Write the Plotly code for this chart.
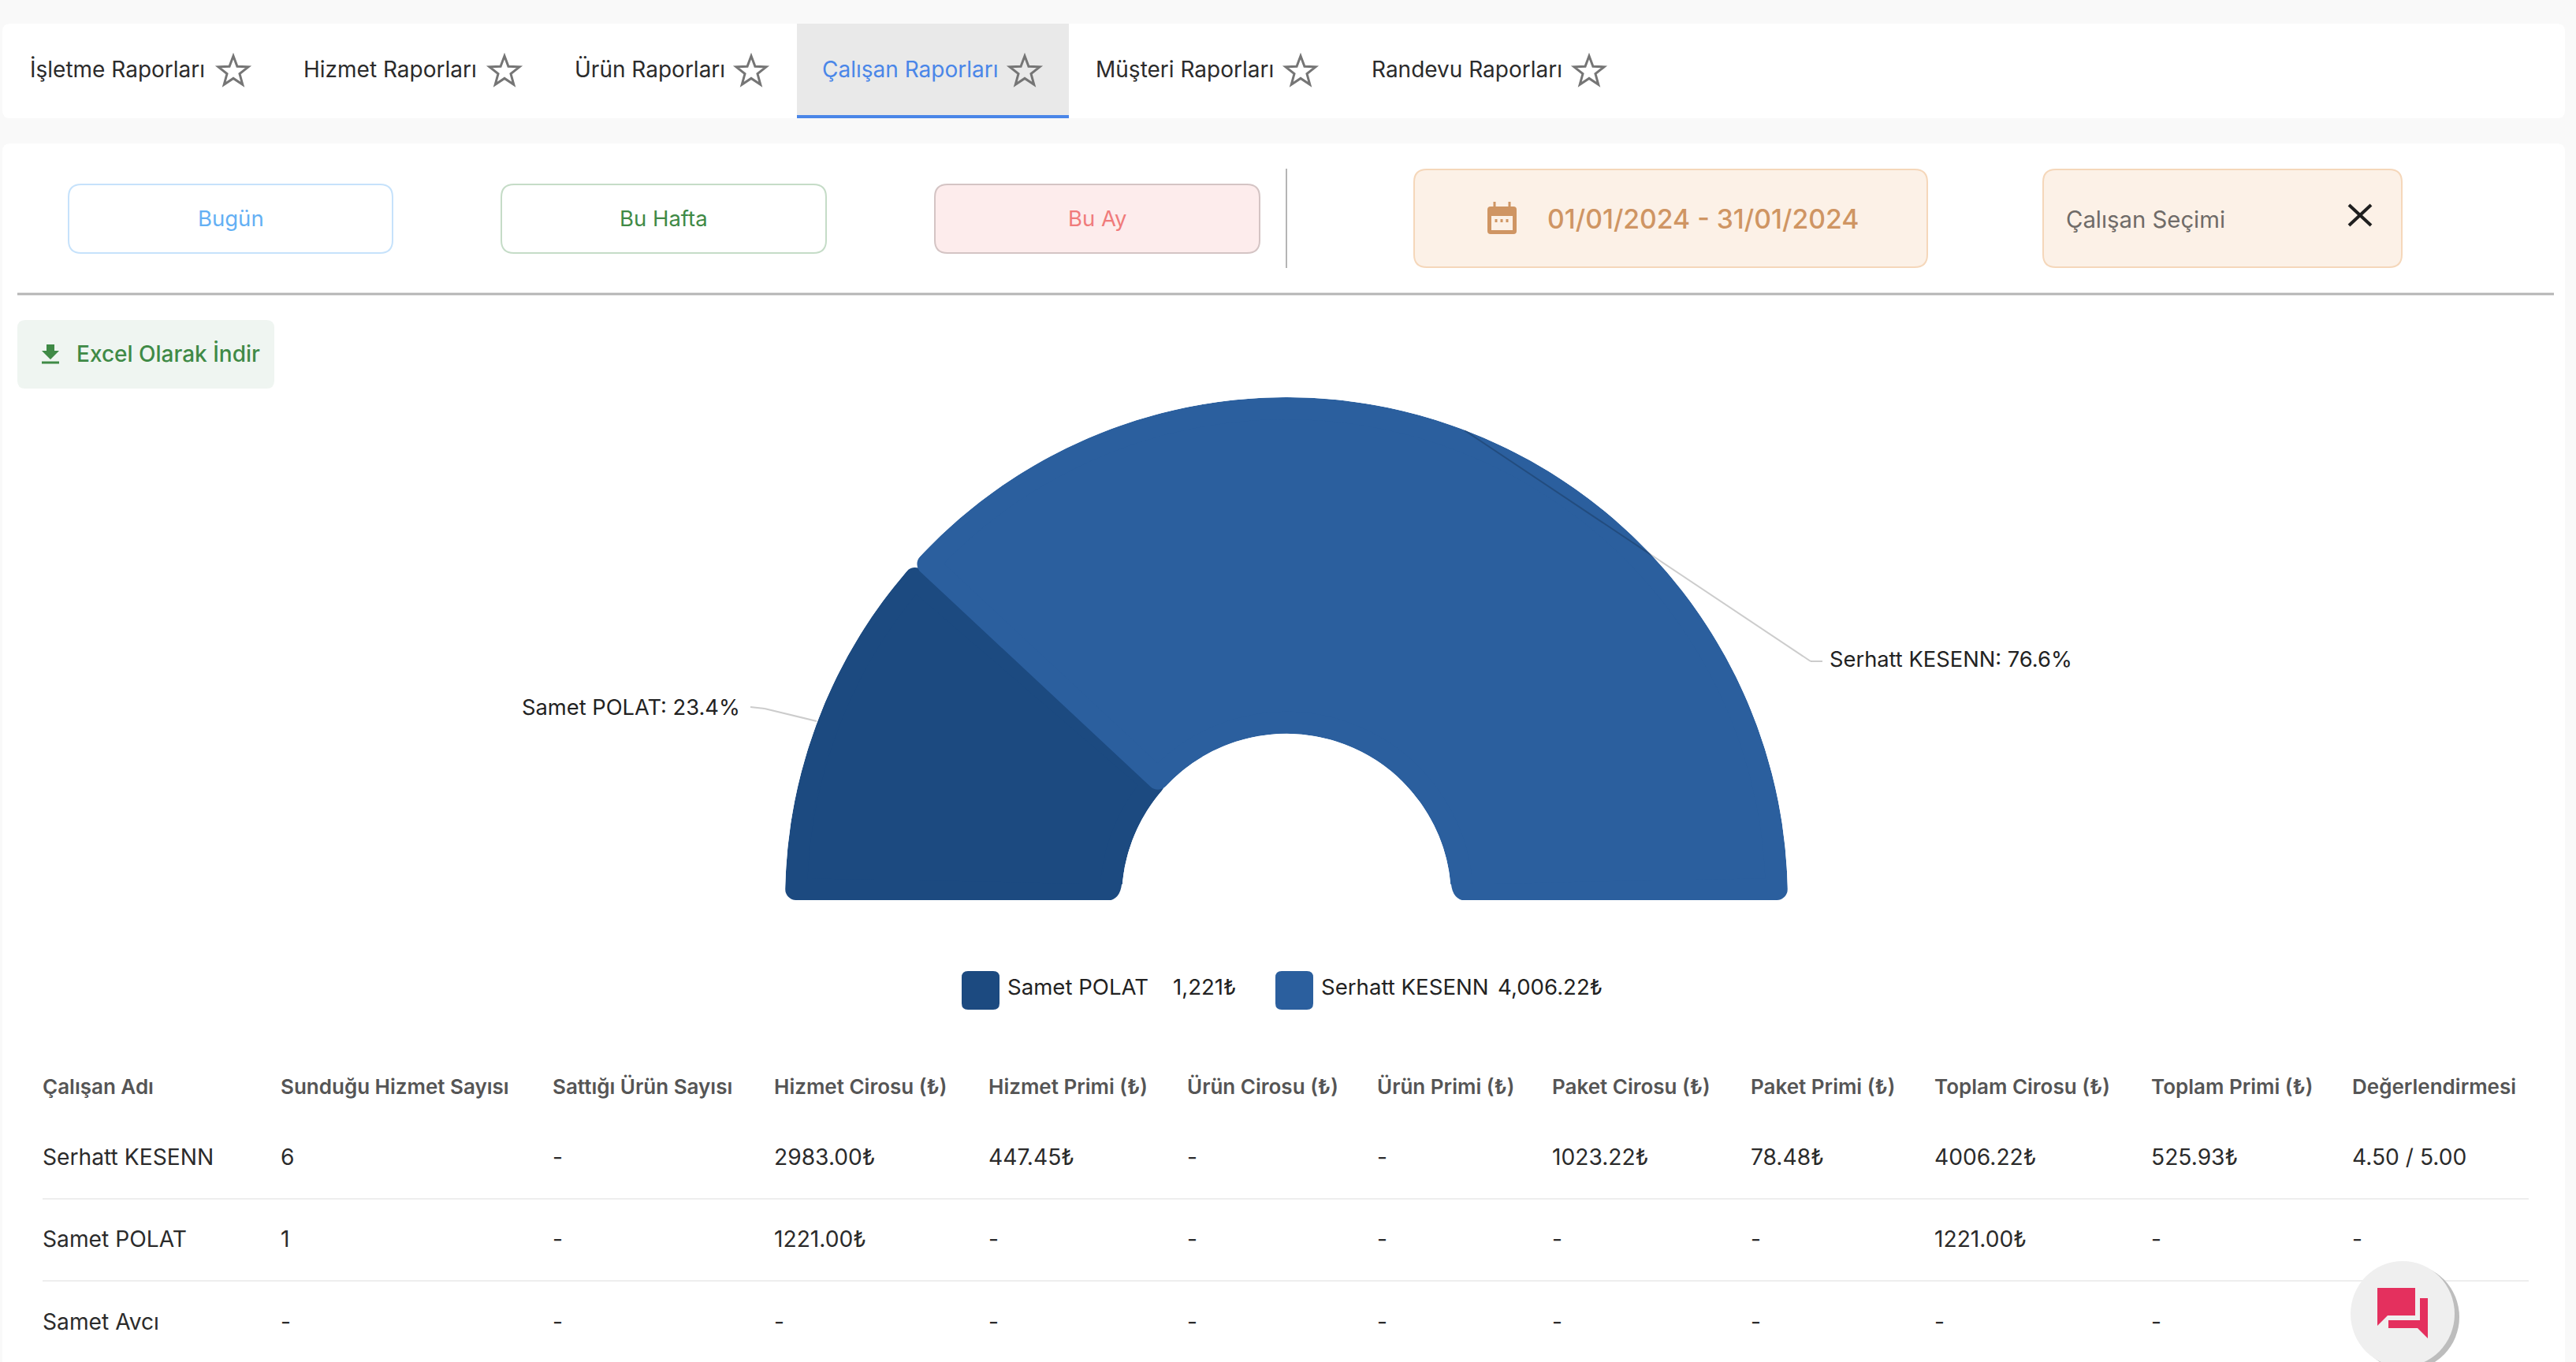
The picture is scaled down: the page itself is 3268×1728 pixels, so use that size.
import math
import plotly.graph_objects as go

W, H = 3268, 1728

# chart values
employees = ['Samet POLAT', 'Serhatt KESENN']
revenue = [1221, 4006.22]
revenue_labels = ['1,221₺', '4,006.22₺']
slice_colors = ['#1c4a80', '#2b5f9e']

# page texts
tabs = ['İşletme Raporları', 'Hizmet Raporları', 'Ürün Raporları', 'Çalışan Raporları', 'Müşteri Raporları', 'Randevu Raporları']
buttons = ['Bugün', 'Bu Hafta', 'Bu Ay']
date_range = '01/01/2024 - 31/01/2024'

# table
table_header = ['Çalışan Adı', 'Sunduğu Hizmet Sayısı', 'Sattığı Ürün Sayısı', 'Hizmet Cirosu (₺)', 'Hizmet Primi (₺)', 'Ürün Cirosu (₺)',
                'Ürün Primi (₺)', 'Paket Cirosu (₺)', 'Paket Primi (₺)', 'Toplam Cirosu (₺)', 'Toplam Primi (₺)', 'Değerlendirmesi']
row_serhatt = ['Serhatt KESENN', '6', '-', '2983.00₺', '447.45₺', '-', '-', '1023.22₺', '78.48₺', '4006.22₺', '525.93₺', '4.50 / 5.00']
row_samet_p = ['Samet POLAT', '1', '-', '1221.00₺', '-', '-', '-', '-', '-', '1221.00₺', '-', '-']
row_samet_a = ['Samet Avcı', '-', '-', '-', '-', '-', '-', '-', '-', '-', '-']

FONT = 'Inter'


def px(x):
    return x / W


def py(y):
    return 1 - y / H


def rrect(x0, y0, x1, y1, r):
    return (f'M {px(x0 + r)} {py(y0)} L {px(x1 - r)} {py(y0)} Q {px(x1)} {py(y0)} {px(x1)} {py(y0 + r)} '
            f'L {px(x1)} {py(y1 - r)} Q {px(x1)} {py(y1)} {px(x1 - r)} {py(y1)} '
            f'L {px(x0 + r)} {py(y1)} Q {px(x0)} {py(y1)} {px(x0)} {py(y1 - r)} '
            f'L {px(x0)} {py(y0 + r)} Q {px(x0)} {py(y0)} {px(x0 + r)} {py(y0)} Z')


def poly(points):
    return 'M ' + ' L '.join(f'{px(x)} {py(y)}' for x, y in points) + ' Z'


shapes = []
annotations = []


def box(x0, y0, x1, y1, r=0, fill='#ffffff', line=None, lw=2, layer='below'):
    shapes.append(dict(type='path', path=rrect(x0, y0, x1, y1, r), xref='paper', yref='paper', layer=layer,
                       fillcolor=fill, line=dict(color=line or fill, width=lw if line else 0)))


def seg(x0, y0, x1, y1, color, lw=2, layer='below'):
    shapes.append(dict(type='line', x0=px(x0), y0=py(y0), x1=px(x1), y1=py(y1), xref='paper', yref='paper',
                       layer=layer, line=dict(color=color, width=lw)))


def txt(x, y, s, size=28, color='#2b2b2b', anchor='left', weight=400):
    annotations.append(dict(x=px(x), y=py(y), xref='paper', yref='paper', text=s, showarrow=False, xanchor=anchor,
                            yanchor='middle', borderpad=0, font=dict(family=FONT, size=size, color=color, weight=weight)))


def star(cx, cy, r=20):
    pts = []
    for i in range(10):
        rad = r if i % 2 == 0 else r * 0.42
        a = math.radians(-90 + 36 * i)
        pts.append((cx + rad * math.cos(a), cy + rad * math.sin(a)))
    shapes.append(dict(type='path', path=poly(pts), xref='paper', yref='paper', layer='above',
                       fillcolor='rgba(0,0,0,0)', line=dict(color='#757575', width=3)))


# cards
box(3, 30, 3254, 150, 10)
box(3, 182, 3254, 1760, 10)

# tabs
box(1011, 30, 1356, 150, 0, fill='#e9e9e9')
box(1011, 146, 1356, 150, 0, fill='#4a86e8')
tab_x = [37, 384, 728, 1042, 1389, 1739]
star_x = [296, 640, 953, 1300, 1650, 2016]
for i, t in enumerate(tabs):
    txt(tab_x[i], 88, t, 28, '#4a86e8' if i == 3 else '#2b2b2b')
    star(star_x[i], 91)

# period buttons
button_x = [(87, 498), (636, 1048), (1186, 1598)]
button_fill = ['#ffffff', '#ffffff', '#fdecec']
button_line = ['#c6e2fb', '#c5dcc7', '#d4c4c4']
button_text = ['#64b0f4', '#3f8a46', '#f07b7b']
for i, b in enumerate(buttons):
    box(button_x[i][0], 234, button_x[i][1], 321, 16, button_fill[i], button_line[i])
    txt(sum(button_x[i]) / 2, 277, b, 27.5, button_text[i], 'center')
seg(1632, 214, 1632, 340, '#b5b5b5', 2)
seg(22, 373, 3240, 373, '#b5b5b5', 3)

# excel button
box(22, 406, 348, 493, 10, '#eff5f1')
shapes.append(dict(type='path', path=poly([(59, 437), (69, 437), (69, 445), (75, 445), (64, 456), (53, 445), (59, 445)]),
                   xref='paper', yref='paper', layer='above', fillcolor='#3f8a46', line=dict(width=0)))
seg(53, 460, 75, 460, '#3f8a46', 3, 'above')
txt(96, 449, 'Excel Olarak İndir', 28, '#3f8a46', weight=500)

# date box
box(1794, 215, 2445, 339, 16, '#fcf1e7', '#f5d7ba')
box(1887, 262, 1924, 297, 4, '#cf9563')
box(1892, 274, 1919, 292, 0, '#fcf1e7')
seg(1896, 256, 1896, 264, '#cf9563', 3, 'above')
seg(1915, 256, 1915, 264, '#cf9563', 3, 'above')
for dot_x in [1898, 1905, 1912]:
    seg(dot_x, 278, dot_x, 282, '#cf9563', 3, 'above')
txt(1962, 277, date_range, 33.7, '#cf9563', weight=500)

# employee select
box(2592, 215, 3047, 339, 16, '#fcf1e7', '#f5d7ba')
txt(2620, 278, 'Çalışan Seçimi', 29.3, '#6f6b68')
seg(2980, 260, 3008, 286, '#1f1f1f', 4, 'above')
seg(3008, 260, 2980, 286, '#1f1f1f', 4, 'above')

# half donut, the rounded corners come from a thick round-joined outline
CX, CY, R, R_IN = 1632, 1140, 636, 209
BASELINE = 1142
STROKE = 28
total = sum(revenue)
spans = [v / total * 180 for v in revenue]
edge = spans[0]
r_inset = (STROKE / 2) / (R - R_IN)
base_inset = 1.1
sector_pad = 3
pad_px = 33.3
lo = [base_inset, edge + 1.0]
hi = [edge - 1.3, 180 - base_inset]

fig = go.Figure()
fig.add_trace(go.Barpolar(
    theta=[(a + b) / 2 for a, b in zip(lo, hi)],
    width=[b - a for a, b in zip(lo, hi)],
    r=[1 - 2 * r_inset] * 2,
    base=[r_inset] * 2,
    marker=dict(color=slice_colors, line=dict(color=slice_colors, width=STROKE)),
    hoverinfo='skip',
    showlegend=False,
))

# flat bottom edge of the half donut, with the inner corners rounded off
box(CX - R - 10, BASELINE, CX + R + 10, BASELINE + 30, 0, '#ffffff', layer='above')
for side in [-1, 1]:
    edge_x = CX + side * R_IN
    shapes.append(dict(type='path', xref='paper', yref='paper', layer='above', fillcolor='#ffffff', line=dict(width=0),
                       path=(f'M {px(edge_x + side * 18)} {py(BASELINE + 1)} '
                             f'Q {px(edge_x + side * 2)} {py(BASELINE - 1)} {px(edge_x)} {py(BASELINE - 20)} '
                             f'L {px(edge_x - side * 9)} {py(BASELINE - 20)} L {px(edge_x - side * 9)} {py(BASELINE + 1)} Z')))

# leader lines and labels
seg(952, 897, 970, 899, '#cccccc', 2)
seg(970, 899, 1036, 915, '#cccccc', 2)
seg(1858, 546, 2297, 839, 'rgba(0,0,0,0.2)', 2, 'above')
seg(2297, 839, 2312, 839, 'rgba(0,0,0,0.2)', 2, 'above')
txt(940, 897, f'{employees[0]}: {revenue[0] / total * 100:.1f}%', 27.3, '#222222', 'right')
txt(2320, 836, f'{employees[1]}: {revenue[1] / total * 100:.1f}%', 27.3, '#222222')

# legend
legend_x = [1220, 1618]
legend_name_x = [1277, 1675]
legend_val_x = [1487, 1899]
for i in range(2):
    box(legend_x[i], 1232, legend_x[i] + 48, 1281, 8, slice_colors[i])
    txt(legend_name_x[i], 1252, employees[i], 27.6, '#222222')
    txt(legend_val_x[i], 1252, revenue_labels[i], 27.6, '#222222')

# table text
col_x = [53, 355, 700, 981, 1253, 1505, 1746, 1968, 2220, 2453, 2728, 2983]
for x, t in zip(col_x, table_header):
    txt(x, 1378, t, 26, '#555555', weight=600)
for y, row in zip([1468, 1572, 1677], [row_serhatt, row_samet_p, row_samet_a]):
    for x, t in zip(col_x, row):
        txt(x, y, t, 28.2, '#2b2b2b')
seg(54, 1521, 3208, 1521, '#eeeeee', 2)
seg(54, 1625, 3208, 1625, '#eeeeee', 2)

# chat button
shapes.append(dict(type='circle', x0=px(2988), x1=px(3120), y0=py(1604), y1=py(1738), xref='paper', yref='paper',
                   layer='above', fillcolor='#bdbdbd', line=dict(width=0)))
shapes.append(dict(type='circle', x0=px(2982), x1=px(3114), y0=py(1600), y1=py(1734), xref='paper', yref='paper',
                   layer='above', fillcolor='#efefef', line=dict(width=0)))
shapes.append(dict(type='path', path=poly([(3016, 1634), (3064, 1634), (3064, 1669), (3029, 1669), (3016, 1682)]),
                   xref='paper', yref='paper', layer='above', fillcolor='#e4305e', line=dict(width=0)))
shapes.append(dict(type='path', path=poly([(3070, 1647), (3080, 1647), (3080, 1698), (3067, 1685), (3030, 1685), (3030, 1675), (3070, 1675)]),
                   xref='paper', yref='paper', layer='above', fillcolor='#e4305e', line=dict(width=0)))

fig.update_layout(
    width=W,
    height=H,
    margin=dict(l=0, r=0, t=0, b=0),
    paper_bgcolor='#f9f9f9',
    plot_bgcolor='rgba(0,0,0,0)',
    showlegend=False,
    shapes=shapes,
    annotations=annotations,
    polar=dict(
        domain=dict(x=[px(CX - R), px(CX + R)], y=[py(CY + pad_px), py(CY - R)]),
        sector=[-sector_pad, 180 + sector_pad],
        hole=R_IN / R,
        bgcolor='rgba(0,0,0,0)',
        radialaxis=dict(visible=False, range=[0, 1]),
        angularaxis=dict(visible=False, direction='clockwise', rotation=180, thetaunit='degrees'),
    ),
)

js = """
document.body.style.margin = '0';
document.querySelectorAll('.barlayer path').forEach(function (p) { p.style.strokeLinejoin = 'round'; });
"""
fig.write_html("out.html", config=dict(displayModeBar=False), post_script=js)
